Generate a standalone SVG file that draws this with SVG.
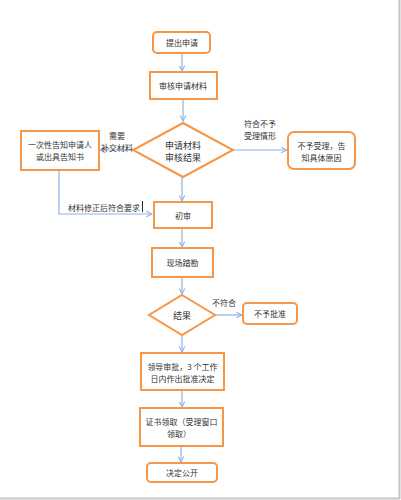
<svg xmlns="http://www.w3.org/2000/svg" width="401" height="500" viewBox="0 0 401 500">
<defs>
<style>
.n{fill:#fff;stroke:#f79646;stroke-width:2}
.c{fill:none;stroke:#8eb4e3;stroke-width:1.2}
text{font-family:"Noto Sans CJK SC","Liberation Sans",sans-serif;font-size:8px;fill:#333;text-anchor:middle;dominant-baseline:central}
.d{font-size:9px}
</style>
<marker id="a" viewBox="0 0 10 10" refX="9" refY="5" markerWidth="7" markerHeight="7" orient="auto" markerUnits="userSpaceOnUse">
<path d="M1,1 L9,5 L1,9" fill="none" stroke="#8eb4e3" stroke-width="1.5"/>
</marker>
</defs>
<rect x="0" y="0" width="401" height="500" fill="#fff"/>
<line x1="399.5" y1="0" x2="399.5" y2="499" stroke="#c4c4c4" stroke-width="2"/>
<line x1="0" y1="498.5" x2="400" y2="498.5" stroke="#c4c4c4" stroke-width="2"/>
<g id="connectors">
<line class="c" x1="182" y1="53" x2="182" y2="71" marker-end="url(#a)"/>
<line class="c" x1="183" y1="99" x2="183" y2="121" marker-end="url(#a)"/>
<line class="c" x1="133" y1="150" x2="100" y2="150" marker-end="url(#a)"/>
<line class="c" x1="233" y1="150" x2="287" y2="150" marker-end="url(#a)"/>
<polyline class="c" points="59,170 59,214 152,214" marker-end="url(#a)"/>
<line class="c" x1="182" y1="177" x2="182" y2="201" marker-end="url(#a)"/>
<line class="c" x1="182" y1="228" x2="182" y2="247" marker-end="url(#a)"/>
<line class="c" x1="182" y1="277" x2="182" y2="294" marker-end="url(#a)"/>
<line class="c" x1="215" y1="315" x2="242" y2="315" marker-end="url(#a)"/>
<line class="c" x1="182" y1="335" x2="182" y2="352" marker-end="url(#a)"/>
<line class="c" x1="182" y1="390" x2="182" y2="407" marker-end="url(#a)"/>
<line class="c" x1="181" y1="446" x2="181" y2="462" marker-end="url(#a)"/>
<text x="117" y="135">需要</text>
<text x="117" y="147">补交材料</text>
<text x="260" y="123">符合不予</text>
<text x="260" y="135">受理情形</text>
<text x="104" y="207">材料修正后符合要求</text>
<line x1="142.5" y1="201" x2="142.5" y2="212" stroke="#222" stroke-width="1"/>
<text x="224" y="302">不符合</text>
</g>
<g id="n1"><rect class="n" x="153" y="32" width="57" height="21" rx="4"/><text x="182" y="42.5">提出申请</text></g>
<g id="n2"><rect class="n" x="150" y="72" width="67" height="27"/><text x="183" y="85.5">审核申请材料</text></g>
<g id="n3"><polygon class="n" points="183,123 233,150 183,177 133,150"/><text class="d" x="183" y="145">申请材料</text><text class="d" x="183" y="157.5">审核结果</text></g>
<g id="n4"><rect class="n" x="21" y="131" width="78" height="39"/><text x="60" y="144">一次性告知申请人</text><text x="60" y="156">或出具告知书</text></g>
<g id="n5"><rect class="n" x="288" y="132" width="67" height="37" rx="6"/><text x="321.5" y="145">不予受理，告</text><text x="321.5" y="157">知具体原因</text></g>
<g id="n6"><rect class="n" x="154" y="202" width="58" height="26"/><text x="183" y="215">初审</text></g>
<g id="n7"><rect class="n" x="152" y="248" width="61" height="29"/><text x="182.5" y="262.5">现场踏勘</text></g>
<g id="n8"><polygon class="n" points="182,295 215,315 182,335 149,315"/><text class="d" x="182" y="315">结果</text></g>
<g id="n9"><rect class="n" x="243" y="303" width="54" height="21" rx="4"/><text x="270" y="313.5">不予批准</text></g>
<g id="n10"><rect class="n" x="141" y="353" width="83" height="37"/><text x="182.5" y="366">领导审批，3 个工作</text><text x="182.5" y="378">日内作出批准决定</text></g>
<g id="n11"><rect class="n" x="140" y="408" width="83" height="38"/><text x="181.5" y="421">证书领取（受理窗口</text><text x="179" y="433">领取）</text></g>
<g id="n12"><rect class="n" x="147" y="463" width="70" height="19" rx="4"/><text x="182" y="472.5">决定公开</text></g>
</svg>
